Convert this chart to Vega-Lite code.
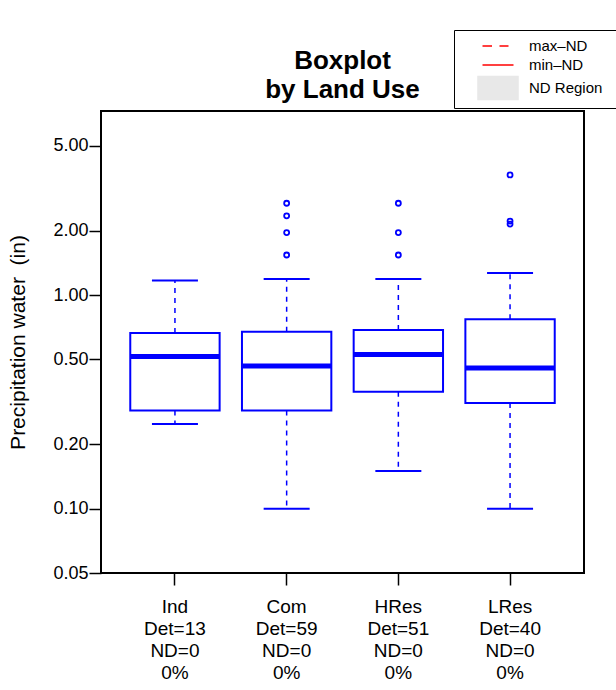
{
  "$schema": "https://vega.github.io/schema/vega-lite/v6.json",
  "width": 483,
  "height": 462,
  "autosize": {"type": "none"},
  "padding": {"left": 101, "top": 111, "right": 32, "bottom": 117},
  "background": "white",
  "title": {
    "text": ["Boxplot", "by Land Use"],
    "fontSize": 26,
    "fontWeight": "bold",
    "lineHeight": 29,
    "anchor": "middle",
    "frame": "group",
    "offset": 10,
    "dy": 83,
    "color": "black"
  },
  "data": {
    "values": [
      {"label": "Ind|Det=13|ND=0|0%", "lo": 0.249, "q1": 0.288, "med": 0.515, "q3": 0.665, "hi": 1.17, "outliers": []},
      {"label": "Com|Det=59|ND=0|0%", "lo": 0.10, "q1": 0.288, "med": 0.466, "q3": 0.674, "hi": 1.19, "outliers": [2.69, 2.35, 1.96, 1.54]},
      {"label": "HRes|Det=51|ND=0|0%", "lo": 0.150, "q1": 0.353, "med": 0.527, "q3": 0.687, "hi": 1.19, "outliers": [2.69, 1.96, 1.54]},
      {"label": "LRes|Det=40|ND=0|0%", "lo": 0.10, "q1": 0.312, "med": 0.456, "q3": 0.771, "hi": 1.27, "outliers": [3.65, 2.22, 2.15]}
    ]
  },
  "encoding": {
    "x": {
      "field": "label",
      "type": "nominal",
      "sort": null,
      "scale": {
        "domain": ["Ind|Det=13|ND=0|0%", "Com|Det=59|ND=0|0%", "HRes|Det=51|ND=0|0%", "LRes|Det=40|ND=0|0%"],
        "paddingInner": 0,
        "paddingOuter": 0.162
      },
      "axis": {
        "title": null,
        "labelExpr": "split(datum.value, '|')",
        "labelAngle": 0,
        "labelFontSize": 19,
        "labelLineHeight": 22,
        "labelPadding": 12,
        "tickSize": 12,
        "tickWidth": 1.5,
        "domain": false
      }
    }
  },
  "layer": [
    {
      "mark": {"type": "rule", "color": "blue", "strokeWidth": 1.5, "strokeDash": [5, 5]},
      "encoding": {
        "y": {
          "field": "q3",
          "type": "quantitative",
          "title": "Precipitation water\u00a0 (in)",
          "scale": {"type": "log", "domain": [0.05, 7.27], "nice": false},
          "axis": {
            "values": [0.05, 0.1, 0.2, 0.5, 1, 2, 5],
            "format": ".2f",
            "grid": false,
            "domain": false,
            "tickSize": 12,
            "tickWidth": 1.5,
            "labelFontSize": 18,
            "labelPadding": 1,
            "titleFontSize": 21,
            "titleFontWeight": "normal",
            "titlePadding": 24
          }
        },
        "y2": {"field": "hi"}
      }
    },
    {
      "mark": {"type": "rule", "color": "blue", "strokeWidth": 1.5, "strokeDash": [5, 5]},
      "encoding": {
        "y": {"field": "q1", "type": "quantitative", "title": "Precipitation water\u00a0 (in)"},
        "y2": {"field": "lo"}
      }
    },
    {
      "mark": {"type": "bar", "fill": "white", "stroke": "blue", "strokeWidth": 2, "width": {"band": 0.8}},
      "encoding": {
        "y": {"field": "q1", "type": "quantitative", "title": "Precipitation water\u00a0 (in)"},
        "y2": {"field": "q3"}
      }
    },
    {
      "mark": {"type": "tick", "color": "blue", "thickness": 5, "size": 89, "opacity": 1},
      "encoding": {
        "y": {"field": "med", "type": "quantitative", "title": "Precipitation water\u00a0 (in)"}
      }
    },
    {
      "mark": {"type": "tick", "color": "blue", "thickness": 2, "size": 46, "opacity": 1},
      "encoding": {
        "y": {"field": "hi", "type": "quantitative", "title": "Precipitation water\u00a0 (in)"}
      }
    },
    {
      "mark": {"type": "tick", "color": "blue", "thickness": 2, "size": 46, "opacity": 1},
      "encoding": {
        "y": {"field": "lo", "type": "quantitative", "title": "Precipitation water\u00a0 (in)"}
      }
    },
    {
      "transform": [{"flatten": ["outliers"]}],
      "mark": {"type": "point", "filled": false, "color": "blue", "strokeWidth": 1.8, "size": 25, "opacity": 1},
      "encoding": {
        "y": {"field": "outliers", "type": "quantitative", "title": "Precipitation water\u00a0 (in)"}
      }
    },
    {
      "data": {"values": []},
      "mark": {"type": "point", "opacity": 1, "strokeWidth": 1.5},
      "encoding": {
        "shape": {
          "field": "nd",
          "type": "nominal",
          "scale": {
            "domain": ["max\u2013ND", "min\u2013ND", "ND Region"],
            "range": ["M-1.55,0H-0.6M0.15,0H1.05", "M-1.55,0H1.55", "M-2,-1.15H2V1.15H-2Z"]
          },
          "legend": {
            "title": "\u00a0",
            "titleOrient": "right",
            "titlePadding": 30,
            "titleFontSize": 10,
            "orient": "none",
            "legendX": 353,
            "legendY": -81,
            "strokeColor": "black",
            "fillColor": "white",
            "padding": 5,
            "symbolSize": 400,
            "symbolOffset": 28,
            "labelOffset": 20,
            "rowPadding": 0,
            "labelFontSize": 15,
            "labelColor": "black",
            "symbolStrokeWidth": 1.5
          }
        },
        "stroke": {
          "field": "nd",
          "type": "nominal",
          "scale": {
            "domain": ["max\u2013ND", "min\u2013ND", "ND Region"],
            "range": ["red", "red", "#e8e8e8"]
          }
        },
        "fill": {
          "field": "nd",
          "type": "nominal",
          "scale": {
            "domain": ["max\u2013ND", "min\u2013ND", "ND Region"],
            "range": ["red", "red", "#e8e8e8"]
          }
        }
      }
    }
  ],
  "config": {
    "font": "Liberation Sans",
    "view": {"stroke": "black", "strokeWidth": 2},
    "axis": {"labelColor": "black", "tickColor": "black", "titleColor": "black"}
  }
}
